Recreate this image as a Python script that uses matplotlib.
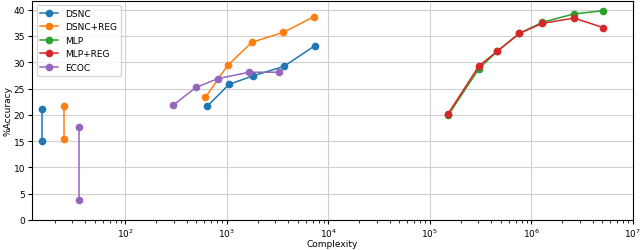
import matplotlib
matplotlib.use("Agg")
import matplotlib.pyplot as plt

# Valeurs
dsnc_x = [637, 1050, 1800, 3630, 7290]
dsnc_y = [21.6, 25.8, 27.4, 29.2, 33.1]
dsnc_reg_x = [612, 1016, 1760, 3600, 7250]
dsnc_reg_y = [23.3, 29.4, 33.8, 35.7, 38.7]
mlp_x = [151000, 304000, 461000, 762000, 1.28e6, 2.63e6, 5.08e6]
mlp_y = [19.9, 28.8, 32.1, 35.5, 37.6, 39.2, 39.8]
mlp_reg_x = [151000, 304000, 461000, 762000, 1.28e6, 2.63e6, 5.08e6]
mlp_reg_y = [20.2, 29.3, 32.1, 35.5, 37.4, 38.4, 36.6]
ecoc_x = [294, 493, 822, 1655, 3280]
ecoc_y = [21.8, 25.2, 26.9, 28.1, 28.1]

# Points de référence (même complexité, deux précisions)
dsnc_base_x = [15, 15]
dsnc_base_y = [21.1, 15.1]
dsnc_reg_base_x = [25, 25]
dsnc_reg_base_y = [21.6, 15.4]
ecoc_base_x = [35, 35]
ecoc_base_y = [17.6, 3.7]

fig = plt.figure(figsize=(6.4, 2.51), dpi=100)
ax = fig.add_axes([0.05, 0.12, 0.939, 0.873])

ax.plot(dsnc_x, dsnc_y, "o-", color="C0", ms=4.5, lw=1.1, label="DSNC")
ax.plot(dsnc_reg_x, dsnc_reg_y, "o-", color="C1", ms=4.5, lw=1.1, label="DSNC+REG")
ax.plot(mlp_x, mlp_y, "o-", color="C2", ms=4.5, lw=1.1, label="MLP")
ax.plot(mlp_reg_x, mlp_reg_y, "o-", color="C3", ms=4.5, lw=1.1, label="MLP+REG")
ax.plot(ecoc_x, ecoc_y, "o-", color="C4", ms=4.5, lw=1.1, label="ECOC")

ax.plot(dsnc_base_x, dsnc_base_y, "o-", color="C0", ms=4.5, lw=1.1)
ax.plot(dsnc_reg_base_x, dsnc_reg_base_y, "o-", color="C1", ms=4.5, lw=1.1)
ax.plot(ecoc_base_x, ecoc_base_y, "o-", color="C4", ms=4.5, lw=1.1)

ax.set_xscale("log")
ax.set_xlim(12, 1e7)
ax.set_ylim(0, 41.7)
ax.grid(True, color="#d0d0d0")
ax.tick_params(labelsize=6.5, length=3, pad=2)
ax.set_xlabel("Complexity", fontsize=6.5, labelpad=0)
ax.set_ylabel("%Accuracy", fontsize=6.5, labelpad=1)
ax.legend(loc="upper left", fontsize=6.5)

fig.savefig("out.png", dpi=100)
